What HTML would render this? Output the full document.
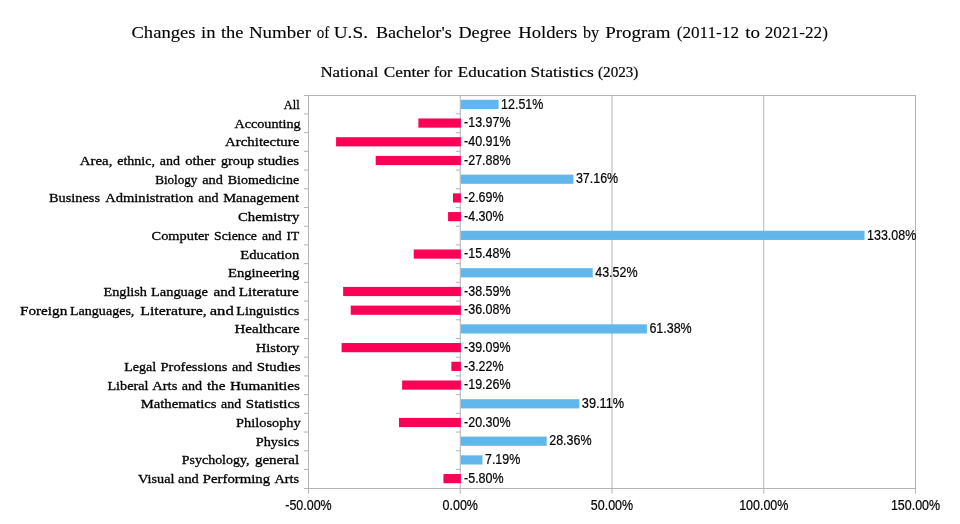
<!DOCTYPE html>
<html><head><meta charset="utf-8"><title>Chart</title>
<style>
html,body{margin:0;padding:0;background:#fff;}
body{width:960px;height:524px;overflow:hidden;font-family:"Liberation Sans",sans-serif;}
svg{display:block;will-change:transform;}
.ser{font-family:"Liberation Serif",serif;fill:#000;stroke:#000;stroke-width:0.3px;}
.san{font-family:"Liberation Sans",sans-serif;fill:#000;stroke:#000;stroke-width:0.2px;}
</style></head><body>
<svg width="960" height="524" viewBox="0 0 960 524">
<rect x="0" y="0" width="960" height="524" fill="#ffffff"/>
<text class="ser" x="131.45" y="38.3" font-size="17.33" textLength="64.05" lengthAdjust="spacingAndGlyphs" style="stroke-width:0.1px">Changes</text>
<text class="ser" x="200.95" y="38.3" font-size="17.33" textLength="14.55" lengthAdjust="spacingAndGlyphs" style="stroke-width:0.1px">in</text>
<text class="ser" x="220.95" y="38.3" font-size="17.33" textLength="22.55" lengthAdjust="spacingAndGlyphs" style="stroke-width:0.1px">the</text>
<text class="ser" x="248.95" y="38.3" font-size="17.33" textLength="62.05" lengthAdjust="spacingAndGlyphs" style="stroke-width:0.1px">Number</text>
<text class="ser" x="316.70" y="38.3" font-size="17.33" textLength="12.55" lengthAdjust="spacingAndGlyphs" style="stroke-width:0.1px">of</text>
<text class="ser" x="333.70" y="38.3" font-size="17.33" textLength="34.30" lengthAdjust="spacingAndGlyphs" style="stroke-width:0.1px">U.S.</text>
<text class="ser" x="375.95" y="38.3" font-size="17.33" textLength="75.80" lengthAdjust="spacingAndGlyphs" style="stroke-width:0.1px">Bachelor's</text>
<text class="ser" x="458.45" y="38.3" font-size="17.33" textLength="52.55" lengthAdjust="spacingAndGlyphs" style="stroke-width:0.1px">Degree</text>
<text class="ser" x="518.20" y="38.3" font-size="17.33" textLength="59.05" lengthAdjust="spacingAndGlyphs" style="stroke-width:0.1px">Holders</text>
<text class="ser" x="582.95" y="38.3" font-size="17.33" textLength="16.30" lengthAdjust="spacingAndGlyphs" style="stroke-width:0.1px">by</text>
<text class="ser" x="605.20" y="38.3" font-size="17.33" textLength="65.30" lengthAdjust="spacingAndGlyphs" style="stroke-width:0.1px">Program</text>
<text class="ser" x="676.70" y="38.3" font-size="17.33" textLength="62.30" lengthAdjust="spacingAndGlyphs" style="stroke-width:0.1px">(2011-12</text>
<text class="ser" x="745.20" y="38.3" font-size="17.33" textLength="14.80" lengthAdjust="spacingAndGlyphs" style="stroke-width:0.1px">to</text>
<text class="ser" x="764.70" y="38.3" font-size="17.33" textLength="63.30" lengthAdjust="spacingAndGlyphs" style="stroke-width:0.1px">2021-22)</text>
<text class="ser" x="320.40" y="76.7" font-size="15.2" textLength="58.00" lengthAdjust="spacingAndGlyphs" style="stroke-width:0.2px">National</text>
<text class="ser" x="383.80" y="76.7" font-size="15.2" textLength="45.80" lengthAdjust="spacingAndGlyphs" style="stroke-width:0.2px">Center</text>
<text class="ser" x="433.80" y="76.7" font-size="15.2" textLength="18.60" lengthAdjust="spacingAndGlyphs" style="stroke-width:0.2px">for</text>
<text class="ser" x="457.80" y="76.7" font-size="15.2" textLength="68.95" lengthAdjust="spacingAndGlyphs" style="stroke-width:0.2px">Education</text>
<text class="ser" x="530.60" y="76.7" font-size="15.2" textLength="63.10" lengthAdjust="spacingAndGlyphs" style="stroke-width:0.2px">Statistics</text>
<text class="ser" x="598.10" y="76.7" font-size="15.2" textLength="40.20" lengthAdjust="spacingAndGlyphs" style="stroke-width:0.2px">(2023)</text>
<line x1="612.00" y1="95.5" x2="612.00" y2="488.5" stroke="#b3b3b3" stroke-width="1"/>
<line x1="763.75" y1="95.5" x2="763.75" y2="488.5" stroke="#b3b3b3" stroke-width="1"/>
<rect x="308.5" y="95.5" width="607.0" height="393.0" fill="none" stroke="#b3b3b3" stroke-width="1"/>
<line x1="460.25" y1="95.5" x2="460.25" y2="488.5" stroke="#b3b3b3" stroke-width="1"/>
<rect x="460.75" y="99.76" width="37.87" height="9.2" fill="#61b7ec"/>
<rect x="418.39" y="118.47" width="42.51" height="9.2" fill="#fb0256"/>
<rect x="336.09" y="137.19" width="124.81" height="9.2" fill="#fb0256"/>
<rect x="375.70" y="155.90" width="85.20" height="9.2" fill="#fb0256"/>
<rect x="460.75" y="174.61" width="112.68" height="9.2" fill="#61b7ec"/>
<rect x="453.00" y="193.33" width="7.90" height="9.2" fill="#fb0256"/>
<rect x="448.06" y="212.04" width="12.84" height="9.2" fill="#fb0256"/>
<rect x="460.75" y="230.76" width="403.80" height="9.2" fill="#61b7ec"/>
<rect x="413.75" y="249.47" width="47.15" height="9.2" fill="#fb0256"/>
<rect x="460.75" y="268.19" width="131.98" height="9.2" fill="#61b7ec"/>
<rect x="343.13" y="286.90" width="117.77" height="9.2" fill="#fb0256"/>
<rect x="350.75" y="305.61" width="110.15" height="9.2" fill="#fb0256"/>
<rect x="460.75" y="324.33" width="186.19" height="9.2" fill="#61b7ec"/>
<rect x="341.61" y="343.04" width="119.29" height="9.2" fill="#fb0256"/>
<rect x="451.37" y="361.76" width="9.53" height="9.2" fill="#fb0256"/>
<rect x="402.15" y="380.47" width="58.75" height="9.2" fill="#fb0256"/>
<rect x="460.75" y="399.19" width="118.60" height="9.2" fill="#61b7ec"/>
<rect x="398.96" y="417.90" width="61.94" height="9.2" fill="#fb0256"/>
<rect x="460.75" y="436.61" width="85.97" height="9.2" fill="#61b7ec"/>
<rect x="460.75" y="455.33" width="21.72" height="9.2" fill="#61b7ec"/>
<rect x="443.45" y="474.04" width="17.45" height="9.2" fill="#fb0256"/>
<line x1="304.0" y1="95.50" x2="308.5" y2="95.50" stroke="#b3b3b3" stroke-width="1"/>
<line x1="304.0" y1="113.91" x2="308.5" y2="113.91" stroke="#b3b3b3" stroke-width="1"/>
<line x1="455.75" y1="113.91" x2="460.25" y2="113.91" stroke="#b3b3b3" stroke-width="1"/>
<line x1="304.0" y1="132.63" x2="308.5" y2="132.63" stroke="#b3b3b3" stroke-width="1"/>
<line x1="455.75" y1="132.63" x2="460.25" y2="132.63" stroke="#b3b3b3" stroke-width="1"/>
<line x1="304.0" y1="151.34" x2="308.5" y2="151.34" stroke="#b3b3b3" stroke-width="1"/>
<line x1="455.75" y1="151.34" x2="460.25" y2="151.34" stroke="#b3b3b3" stroke-width="1"/>
<line x1="304.0" y1="170.06" x2="308.5" y2="170.06" stroke="#b3b3b3" stroke-width="1"/>
<line x1="455.75" y1="170.06" x2="460.25" y2="170.06" stroke="#b3b3b3" stroke-width="1"/>
<line x1="304.0" y1="188.77" x2="308.5" y2="188.77" stroke="#b3b3b3" stroke-width="1"/>
<line x1="455.75" y1="188.77" x2="460.25" y2="188.77" stroke="#b3b3b3" stroke-width="1"/>
<line x1="304.0" y1="207.49" x2="308.5" y2="207.49" stroke="#b3b3b3" stroke-width="1"/>
<line x1="455.75" y1="207.49" x2="460.25" y2="207.49" stroke="#b3b3b3" stroke-width="1"/>
<line x1="304.0" y1="226.20" x2="308.5" y2="226.20" stroke="#b3b3b3" stroke-width="1"/>
<line x1="455.75" y1="226.20" x2="460.25" y2="226.20" stroke="#b3b3b3" stroke-width="1"/>
<line x1="304.0" y1="244.91" x2="308.5" y2="244.91" stroke="#b3b3b3" stroke-width="1"/>
<line x1="455.75" y1="244.91" x2="460.25" y2="244.91" stroke="#b3b3b3" stroke-width="1"/>
<line x1="304.0" y1="263.63" x2="308.5" y2="263.63" stroke="#b3b3b3" stroke-width="1"/>
<line x1="455.75" y1="263.63" x2="460.25" y2="263.63" stroke="#b3b3b3" stroke-width="1"/>
<line x1="304.0" y1="282.34" x2="308.5" y2="282.34" stroke="#b3b3b3" stroke-width="1"/>
<line x1="455.75" y1="282.34" x2="460.25" y2="282.34" stroke="#b3b3b3" stroke-width="1"/>
<line x1="304.0" y1="301.06" x2="308.5" y2="301.06" stroke="#b3b3b3" stroke-width="1"/>
<line x1="455.75" y1="301.06" x2="460.25" y2="301.06" stroke="#b3b3b3" stroke-width="1"/>
<line x1="304.0" y1="319.77" x2="308.5" y2="319.77" stroke="#b3b3b3" stroke-width="1"/>
<line x1="455.75" y1="319.77" x2="460.25" y2="319.77" stroke="#b3b3b3" stroke-width="1"/>
<line x1="304.0" y1="338.49" x2="308.5" y2="338.49" stroke="#b3b3b3" stroke-width="1"/>
<line x1="455.75" y1="338.49" x2="460.25" y2="338.49" stroke="#b3b3b3" stroke-width="1"/>
<line x1="304.0" y1="357.20" x2="308.5" y2="357.20" stroke="#b3b3b3" stroke-width="1"/>
<line x1="455.75" y1="357.20" x2="460.25" y2="357.20" stroke="#b3b3b3" stroke-width="1"/>
<line x1="304.0" y1="375.91" x2="308.5" y2="375.91" stroke="#b3b3b3" stroke-width="1"/>
<line x1="455.75" y1="375.91" x2="460.25" y2="375.91" stroke="#b3b3b3" stroke-width="1"/>
<line x1="304.0" y1="394.63" x2="308.5" y2="394.63" stroke="#b3b3b3" stroke-width="1"/>
<line x1="455.75" y1="394.63" x2="460.25" y2="394.63" stroke="#b3b3b3" stroke-width="1"/>
<line x1="304.0" y1="413.34" x2="308.5" y2="413.34" stroke="#b3b3b3" stroke-width="1"/>
<line x1="455.75" y1="413.34" x2="460.25" y2="413.34" stroke="#b3b3b3" stroke-width="1"/>
<line x1="304.0" y1="432.06" x2="308.5" y2="432.06" stroke="#b3b3b3" stroke-width="1"/>
<line x1="455.75" y1="432.06" x2="460.25" y2="432.06" stroke="#b3b3b3" stroke-width="1"/>
<line x1="304.0" y1="450.77" x2="308.5" y2="450.77" stroke="#b3b3b3" stroke-width="1"/>
<line x1="455.75" y1="450.77" x2="460.25" y2="450.77" stroke="#b3b3b3" stroke-width="1"/>
<line x1="304.0" y1="469.49" x2="308.5" y2="469.49" stroke="#b3b3b3" stroke-width="1"/>
<line x1="455.75" y1="469.49" x2="460.25" y2="469.49" stroke="#b3b3b3" stroke-width="1"/>
<line x1="304.0" y1="488.50" x2="308.5" y2="488.50" stroke="#b3b3b3" stroke-width="1"/>
<line x1="308.50" y1="488.5" x2="308.50" y2="493.5" stroke="#b3b3b3" stroke-width="1"/>
<line x1="460.25" y1="488.5" x2="460.25" y2="493.5" stroke="#b3b3b3" stroke-width="1"/>
<line x1="612.00" y1="488.5" x2="612.00" y2="493.5" stroke="#b3b3b3" stroke-width="1"/>
<line x1="763.75" y1="488.5" x2="763.75" y2="493.5" stroke="#b3b3b3" stroke-width="1"/>
<line x1="915.50" y1="488.5" x2="915.50" y2="493.5" stroke="#b3b3b3" stroke-width="1"/>
<text class="ser" x="283.80" y="108.86" font-size="13.33" textLength="15.90" lengthAdjust="spacingAndGlyphs">All</text>
<text class="ser" x="234.40" y="127.57" font-size="13.33" textLength="66.30" lengthAdjust="spacingAndGlyphs">Accounting</text>
<text class="ser" x="225.10" y="146.29" font-size="13.33" textLength="74.20" lengthAdjust="spacingAndGlyphs">Architecture</text>
<text class="ser" x="79.70" y="165.00" font-size="13.33" textLength="32.70" lengthAdjust="spacingAndGlyphs">Area,</text>
<text class="ser" x="117.20" y="165.00" font-size="13.33" textLength="37.70" lengthAdjust="spacingAndGlyphs">ethnic,</text>
<text class="ser" x="159.70" y="165.00" font-size="13.33" textLength="20.20" lengthAdjust="spacingAndGlyphs">and</text>
<text class="ser" x="185.20" y="165.00" font-size="13.33" textLength="30.20" lengthAdjust="spacingAndGlyphs">other</text>
<text class="ser" x="220.95" y="165.00" font-size="13.33" textLength="33.20" lengthAdjust="spacingAndGlyphs">group</text>
<text class="ser" x="257.70" y="165.00" font-size="13.33" textLength="41.45" lengthAdjust="spacingAndGlyphs">studies</text>
<text class="ser" x="155.20" y="183.71" font-size="13.33" textLength="42.20" lengthAdjust="spacingAndGlyphs">Biology</text>
<text class="ser" x="202.20" y="183.71" font-size="13.33" textLength="20.70" lengthAdjust="spacingAndGlyphs">and</text>
<text class="ser" x="227.70" y="183.71" font-size="13.33" textLength="71.45" lengthAdjust="spacingAndGlyphs">Biomedicine</text>
<text class="ser" x="49.00" y="202.43" font-size="13.33" textLength="51.00" lengthAdjust="spacingAndGlyphs">Business</text>
<text class="ser" x="105.20" y="202.43" font-size="13.33" textLength="88.20" lengthAdjust="spacingAndGlyphs">Administration</text>
<text class="ser" x="198.20" y="202.43" font-size="13.33" textLength="20.20" lengthAdjust="spacingAndGlyphs">and</text>
<text class="ser" x="223.20" y="202.43" font-size="13.33" textLength="75.95" lengthAdjust="spacingAndGlyphs">Management</text>
<text class="ser" x="238.00" y="221.14" font-size="13.33" textLength="61.40" lengthAdjust="spacingAndGlyphs">Chemistry</text>
<text class="ser" x="151.60" y="239.86" font-size="13.33" textLength="57.50" lengthAdjust="spacingAndGlyphs">Computer</text>
<text class="ser" x="214.10" y="239.86" font-size="13.33" textLength="42.80" lengthAdjust="spacingAndGlyphs">Science</text>
<text class="ser" x="261.90" y="239.86" font-size="13.33" textLength="19.80" lengthAdjust="spacingAndGlyphs">and</text>
<text class="ser" x="286.60" y="239.86" font-size="13.33" textLength="12.70" lengthAdjust="spacingAndGlyphs">IT</text>
<text class="ser" x="240.30" y="258.57" font-size="13.33" textLength="59.10" lengthAdjust="spacingAndGlyphs">Education</text>
<text class="ser" x="228.00" y="277.29" font-size="13.33" textLength="71.40" lengthAdjust="spacingAndGlyphs">Engineering</text>
<text class="ser" x="103.45" y="296.00" font-size="13.33" textLength="43.55" lengthAdjust="spacingAndGlyphs">English</text>
<text class="ser" x="150.95" y="296.00" font-size="13.33" textLength="56.95" lengthAdjust="spacingAndGlyphs">Language</text>
<text class="ser" x="213.45" y="296.00" font-size="13.33" textLength="21.95" lengthAdjust="spacingAndGlyphs">and</text>
<text class="ser" x="238.70" y="296.00" font-size="13.33" textLength="60.20" lengthAdjust="spacingAndGlyphs">Literature</text>
<text class="ser" x="20.00" y="314.71" font-size="13.33" textLength="47.30" lengthAdjust="spacingAndGlyphs">Foreign</text>
<text class="ser" x="70.00" y="314.71" font-size="13.33" textLength="64.40" lengthAdjust="spacingAndGlyphs">Languages,</text>
<text class="ser" x="140.30" y="314.71" font-size="13.33" textLength="66.35" lengthAdjust="spacingAndGlyphs">Literature,</text>
<text class="ser" x="209.70" y="314.71" font-size="13.33" textLength="24.10" lengthAdjust="spacingAndGlyphs">and</text>
<text class="ser" x="236.30" y="314.71" font-size="13.33" textLength="63.10" lengthAdjust="spacingAndGlyphs">Linguistics</text>
<text class="ser" x="234.40" y="333.43" font-size="13.33" textLength="65.20" lengthAdjust="spacingAndGlyphs">Healthcare</text>
<text class="ser" x="255.70" y="352.14" font-size="13.33" textLength="43.70" lengthAdjust="spacingAndGlyphs">History</text>
<text class="ser" x="124.20" y="370.86" font-size="13.33" textLength="32.00" lengthAdjust="spacingAndGlyphs">Legal</text>
<text class="ser" x="160.50" y="370.86" font-size="13.33" textLength="66.80" lengthAdjust="spacingAndGlyphs">Professions</text>
<text class="ser" x="232.10" y="370.86" font-size="13.33" textLength="20.30" lengthAdjust="spacingAndGlyphs">and</text>
<text class="ser" x="256.80" y="370.86" font-size="13.33" textLength="43.80" lengthAdjust="spacingAndGlyphs">Studies</text>
<text class="ser" x="107.40" y="389.57" font-size="13.33" textLength="41.10" lengthAdjust="spacingAndGlyphs">Liberal</text>
<text class="ser" x="152.20" y="389.57" font-size="13.33" textLength="25.20" lengthAdjust="spacingAndGlyphs">Arts</text>
<text class="ser" x="181.70" y="389.57" font-size="13.33" textLength="20.40" lengthAdjust="spacingAndGlyphs">and</text>
<text class="ser" x="206.90" y="389.57" font-size="13.33" textLength="18.60" lengthAdjust="spacingAndGlyphs">the</text>
<text class="ser" x="229.90" y="389.57" font-size="13.33" textLength="70.00" lengthAdjust="spacingAndGlyphs">Humanities</text>
<text class="ser" x="140.80" y="408.29" font-size="13.33" textLength="75.60" lengthAdjust="spacingAndGlyphs">Mathematics</text>
<text class="ser" x="221.10" y="408.29" font-size="13.33" textLength="20.00" lengthAdjust="spacingAndGlyphs">and</text>
<text class="ser" x="245.80" y="408.29" font-size="13.33" textLength="54.10" lengthAdjust="spacingAndGlyphs">Statistics</text>
<text class="ser" x="236.10" y="427.00" font-size="13.33" textLength="64.60" lengthAdjust="spacingAndGlyphs">Philosophy</text>
<text class="ser" x="255.70" y="445.71" font-size="13.33" textLength="43.70" lengthAdjust="spacingAndGlyphs">Physics</text>
<text class="ser" x="181.80" y="464.43" font-size="13.33" textLength="67.70" lengthAdjust="spacingAndGlyphs">Psychology,</text>
<text class="ser" x="254.95" y="464.43" font-size="13.33" textLength="44.20" lengthAdjust="spacingAndGlyphs">general</text>
<text class="ser" x="138.10" y="483.14" font-size="13.33" textLength="36.40" lengthAdjust="spacingAndGlyphs">Visual</text>
<text class="ser" x="178.10" y="483.14" font-size="13.33" textLength="20.70" lengthAdjust="spacingAndGlyphs">and</text>
<text class="ser" x="202.80" y="483.14" font-size="13.33" textLength="67.30" lengthAdjust="spacingAndGlyphs">Performing</text>
<text class="ser" x="274.45" y="483.14" font-size="13.33" textLength="24.70" lengthAdjust="spacingAndGlyphs">Arts</text>
<text class="san" x="501.12" y="108.80" font-size="13.8" textLength="42.26" lengthAdjust="spacingAndGlyphs">12.51%</text>
<text class="san" x="464.05" y="126.80" font-size="13.8" textLength="46.41" lengthAdjust="spacingAndGlyphs">-13.97%</text>
<text class="san" x="464.05" y="145.80" font-size="13.8" textLength="46.41" lengthAdjust="spacingAndGlyphs">-40.91%</text>
<text class="san" x="464.05" y="164.80" font-size="13.8" textLength="46.41" lengthAdjust="spacingAndGlyphs">-27.88%</text>
<text class="san" x="575.93" y="182.80" font-size="13.8" textLength="42.26" lengthAdjust="spacingAndGlyphs">37.16%</text>
<text class="san" x="464.05" y="201.80" font-size="13.8" textLength="39.48" lengthAdjust="spacingAndGlyphs">-2.69%</text>
<text class="san" x="464.05" y="220.80" font-size="13.8" textLength="39.48" lengthAdjust="spacingAndGlyphs">-4.30%</text>
<text class="san" x="867.05" y="239.80" font-size="13.8" textLength="49.19" lengthAdjust="spacingAndGlyphs">133.08%</text>
<text class="san" x="464.05" y="257.80" font-size="13.8" textLength="46.41" lengthAdjust="spacingAndGlyphs">-15.48%</text>
<text class="san" x="595.23" y="276.80" font-size="13.8" textLength="42.26" lengthAdjust="spacingAndGlyphs">43.52%</text>
<text class="san" x="464.05" y="295.80" font-size="13.8" textLength="46.41" lengthAdjust="spacingAndGlyphs">-38.59%</text>
<text class="san" x="464.05" y="313.80" font-size="13.8" textLength="46.41" lengthAdjust="spacingAndGlyphs">-36.08%</text>
<text class="san" x="649.44" y="332.80" font-size="13.8" textLength="42.26" lengthAdjust="spacingAndGlyphs">61.38%</text>
<text class="san" x="464.05" y="351.80" font-size="13.8" textLength="46.41" lengthAdjust="spacingAndGlyphs">-39.09%</text>
<text class="san" x="464.05" y="370.80" font-size="13.8" textLength="39.48" lengthAdjust="spacingAndGlyphs">-3.22%</text>
<text class="san" x="464.05" y="388.80" font-size="13.8" textLength="46.41" lengthAdjust="spacingAndGlyphs">-19.26%</text>
<text class="san" x="581.85" y="407.80" font-size="13.8" textLength="42.26" lengthAdjust="spacingAndGlyphs">39.11%</text>
<text class="san" x="464.05" y="426.80" font-size="13.8" textLength="46.41" lengthAdjust="spacingAndGlyphs">-20.30%</text>
<text class="san" x="549.22" y="444.80" font-size="13.8" textLength="42.26" lengthAdjust="spacingAndGlyphs">28.36%</text>
<text class="san" x="484.97" y="463.80" font-size="13.8" textLength="35.33" lengthAdjust="spacingAndGlyphs">7.19%</text>
<text class="san" x="464.05" y="482.80" font-size="13.8" textLength="39.48" lengthAdjust="spacingAndGlyphs">-5.80%</text>
<text class="san" x="308.50" y="510.2" font-size="13.8" text-anchor="middle" textLength="46.41" lengthAdjust="spacingAndGlyphs">-50.00%</text>
<text class="san" x="460.25" y="510.2" font-size="13.8" text-anchor="middle" textLength="35.33" lengthAdjust="spacingAndGlyphs">0.00%</text>
<text class="san" x="612.00" y="510.2" font-size="13.8" text-anchor="middle" textLength="42.26" lengthAdjust="spacingAndGlyphs">50.00%</text>
<text class="san" x="763.75" y="510.2" font-size="13.8" text-anchor="middle" textLength="49.19" lengthAdjust="spacingAndGlyphs">100.00%</text>
<text class="san" x="915.50" y="510.2" font-size="13.8" text-anchor="middle" textLength="49.19" lengthAdjust="spacingAndGlyphs">150.00%</text>
</svg>
</body></html>
